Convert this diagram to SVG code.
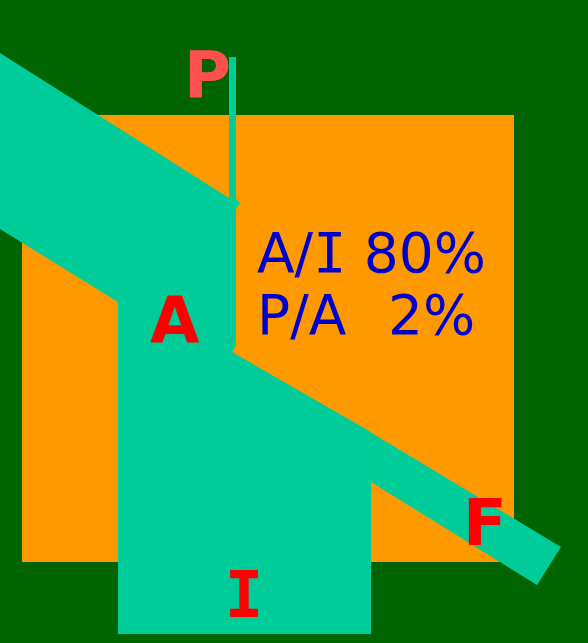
<svg xmlns="http://www.w3.org/2000/svg" width="588" height="643" viewBox="0 0 588 643">
<style>
.flow{fill:#00CC99}
.lbl{font-family:"DejaVu Sans",Verdana,sans-serif;font-weight:bold;font-size:64px;fill:#FF0000}
.serif-i{font-family:"DejaVu Sans Mono",monospace}
.info{font-family:"DejaVu Sans",Verdana,sans-serif;font-size:55px;fill:#0000CC}
</style>
<rect width="588" height="643" fill="#006400"/>
<rect id="system" x="22" y="115" width="492" height="447" fill="#FF9900"/>
<g id="connectors">
<polygon class="flow" points="0,53 229,198 229,57 236,57 236,199 240,203 236,209 236,345 232,352 371,432 371,634 118,634 118,302 0,229"/>
<polygon class="flow" points="370,432 561,547 537,585 371,482"/>
<line x1="229.5" y1="222" x2="229.5" y2="345" stroke="#10b689" stroke-width="1"/>
</g>
<g id="node-P"><text class="lbl" x="184" y="97" style="fill:#FF5050">P</text></g>
<g id="node-A"><text class="lbl" x="150" y="343">A</text></g>
<g id="node-I"><text class="lbl serif-i" x="244" y="617" text-anchor="middle">I</text></g>
<g id="node-F"><text class="lbl" x="463" y="545">F</text></g>
<g id="ratios">
<text class="info" x="257" y="272" xml:space="preserve">A/<tspan class="serif-i">I</tspan> 80%</text>
<text class="info" y="334" xml:space="preserve"><tspan x="257">P/A</tspan>  <tspan x="388">2%</tspan></text>
</g>
</svg>
